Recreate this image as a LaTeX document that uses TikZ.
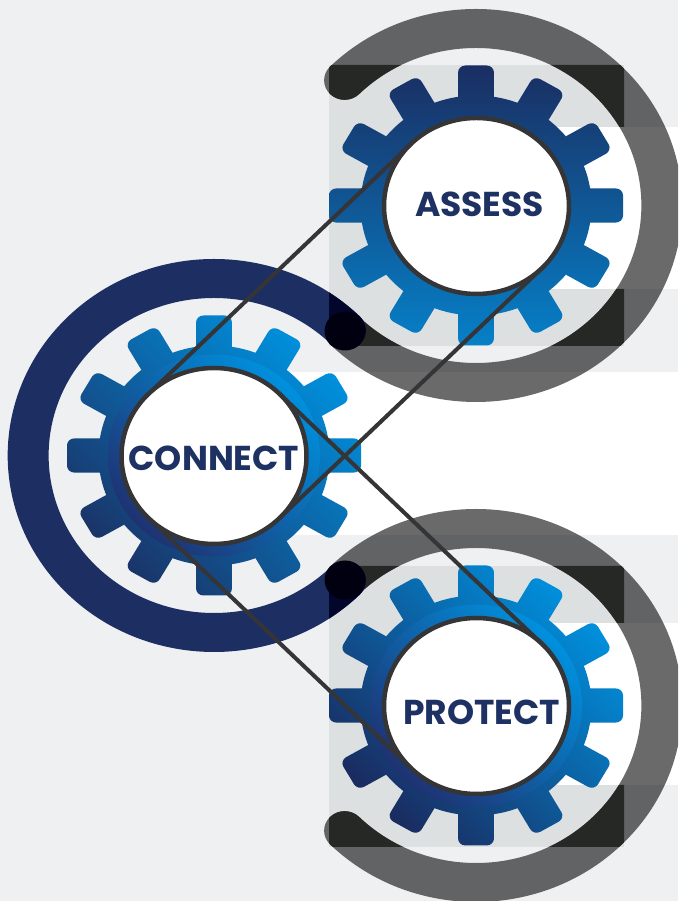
\documentclass[tikz,border=0pt]{standalone}
\usepackage{fontspec}
\usetikzlibrary{shapes.geometric}
\newfontfamily\gearfont{Poppins}
\definecolor{pagebg}{HTML}{EEF0F2}
\definecolor{squaregrey}{HTML}{DCE0E1}
\definecolor{ringdark}{HTML}{262826}
\definecolor{ringnavy}{HTML}{1D2F62}
\definecolor{navydark}{HTML}{02062B}
\definecolor{capblack}{HTML}{000010}
\definecolor{linegrey}{HTML}{353537}
\definecolor{textnavy}{HTML}{1E3163}
\definecolor{geardeep}{HTML}{1A2E62}
\definecolor{gearlow}{HTML}{0680C8}
\definecolor{gearbright}{HTML}{0090DD}
\definecolor{gearmid}{HTML}{1A3468}
\definecolor{gearfar}{HTML}{1A2A5E}
\definecolor{diskdeep}{HTML}{1F3272}
\tikzstyle{hub} = [ellipse, minimum width=185pt, minimum height=176pt, inner sep=0pt, outer sep=0pt, draw=linegrey, line width=4.5pt, fill=white]
\tikzstyle{gearlabel} = [text=textnavy, inner sep=0pt, font=\gearfont\bfseries\fontsize{34.5}{34.5}\selectfont]
\tikzstyle{link} = [draw=linegrey, line width=4pt]
\tikzstyle{ringgrey} = [black, opacity=.584]
\newcommand{\ringpath}[2]{(#1:196.5) arc[start angle=#1,end angle=#2,radius=196.5] arc[start angle=#2,end angle=#2-180,radius=19.5] arc[start angle=#2,end angle=#1,radius=157.5] arc[start angle=#1+180,end angle=#1,radius=19.5] -- cycle}
\newcommand{\gearpath}{(0,0) circle[radius=110] \foreach \a in {0,30,...,330} {[rotate=\a] (17.1,100) -- (17.1,133) arc[start angle=0,end angle=90,radius=7] -- (-10.1,140) arc[start angle=90,end angle=180,radius=7] -- (-17.1,100) -- cycle}}
\begin{document}
\begin{tikzpicture}[x=1pt,y=1pt]
\useasboundingbox (0,0) rectangle (678,901);
\clip (0,0) rectangle (678,901);
\fill[pagebg] (0,0) rectangle (678,901);

\fill[squaregrey] (329,555) rectangle (624,836);
\fill[squaregrey] (329,54) rectangle (624,335);
\fill[white] (476,612) rectangle (678,774);
\fill[white] (214,366) rectangle (678,529);
\fill[white] (476,116) rectangle (678,278);

\fill[ringgrey, shift={(476,695.5)}, xscale=1.05] \ringpath{135}{-135};
\fill[ringgrey, shift={(476,195.5)}, xscale=1.05] \ringpath{135}{-135};
\begin{scope}
\clip (329,774) rectangle (624,836) (329,555) rectangle (624,612);
\fill[ringdark, shift={(476,695.5)}, xscale=1.05] \ringpath{135}{-135};
\end{scope}
\begin{scope}
\clip (329,278) rectangle (624,335) (329,54) rectangle (624,116);
\fill[ringdark, shift={(476,195.5)}, xscale=1.05] \ringpath{135}{-135};
\end{scope}

\fill[ringnavy, shift={(214,445.5)}, xscale=1.05] \ringpath{315}{45};
\begin{scope}
\clip (329,555) rectangle (624,836) (329,54) rectangle (624,335);
\fill[navydark, shift={(214,445.5)}, xscale=1.05] \ringpath{315}{45};
\end{scope}
\fill[capblack] (345,570) ellipse[x radius=20.5, y radius=19.5];
\fill[capblack] (345,321) ellipse[x radius=20.5, y radius=19.5];

\shade[top color=geardeep, bottom color=gearlow, shift={(476,695.5)}, xscale=1.05] \gearpath;
\shade[top color=gearbright, bottom color=gearmid, shading angle=-45, shift={(214,445.5)}, xscale=1.05] \gearpath;
\shade[top color=gearbright, bottom color=diskdeep, shading angle=-45, shift={(214,445.5)}, xscale=1.05] (0,0) circle[radius=101];
\shade[top color=gearbright, bottom color=gearfar, shading angle=-45, shift={(476,195.5)}, xscale=1.05] \gearpath;
\shade[top color=gearbright, bottom color=diskdeep, shading angle=-45, shift={(476,195.5)}, xscale=1.05] (0,0) circle[radius=101];

\node (assess) [hub] at (476.5,695) {};
\node (connect) [hub] at (214,445) {};
\node (protect) [hub] at (476.5,195) {};

\node (assesstext) [gearlabel, xshift=3pt, yshift=2pt] at (assess) {ASSESS};
\node (connecttext) [gearlabel, yshift=-2pt] at (connect) {CONNECT};
\node (protecttext) [gearlabel, xshift=5pt, yshift=-6pt] at (protect) {PROTECT};

\draw [link] (connect.north west) -- (assess.north west);
\draw [link] (connect.south east) -- (assess.south east);
\draw [link] (connect.north east) -- (protect.north east);
\draw [link] (connect.south west) -- (protect.south west);
\end{tikzpicture}
\end{document}
